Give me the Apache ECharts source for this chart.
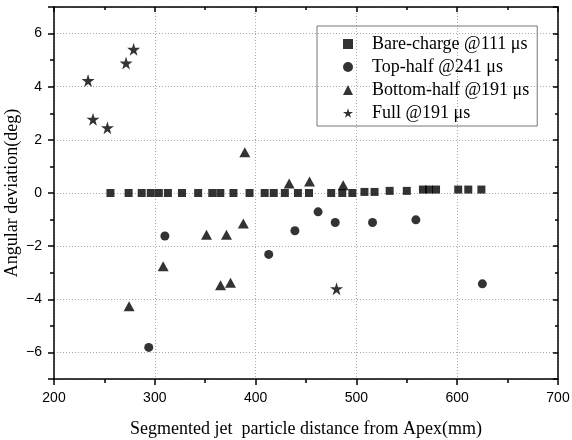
<!DOCTYPE html>
<html>
<head>
<meta charset="utf-8">
<script src="https://cdn.jsdelivr.net/npm/echarts@6/dist/echarts.min.js"></script>
<style>
  html, body { margin: 0; padding: 0; background: #fff; }
  #main { width: 572px; height: 440px; }
</style>
</head>
<body>
<div id="main"></div>
<script>
// values
const bareX = [256, 274, 287, 296, 304, 313, 327, 343, 357, 365, 378, 394, 409, 418, 429, 442, 453, 475, 486, 496, 508, 518, 533, 550, 566, 572, 579, 601, 611, 624];
const bareY = [0, 0, 0, 0, 0, 0, 0, 0, 0, 0, 0, 0, 0, 0, 0, 0, 0, 0, 0, 0, 0.04, 0.04, 0.08, 0.08, 0.13, 0.13, 0.13, 0.13, 0.13, 0.13];

const topX = [294, 310, 413, 439, 462, 479, 516, 559, 625];
const topY = [-5.81, -1.62, -2.31, -1.42, -0.71, -1.11, -1.11, -1.01, -3.42];

const bottomX = [274.5, 308.3, 351.3, 365.2, 371.1, 375.1, 387.8, 389.3, 433.3, 453.5, 486.9];
const bottomY = [-4.26, -2.76, -1.57, -3.47, -1.57, -3.38, -1.15, 1.53, 0.36, 0.43, 0.29];

const fullX = [233.8, 238.7, 253, 271.5, 279, 480.3];
const fullY = [4.23, 2.78, 2.46, 4.89, 5.41, -3.6];

const seriesNames = ['Bare-charge @111 \u03bcs', 'Top-half @241 \u03bcs', 'Bottom-half @191 \u03bcs', 'Full @191 \u03bcs'];

const starPath = 'path://M50,0 L61,35 L98,35 L68,57 L79,91 L50,70 L21,91 L32,57 L2,35 L39,35 Z';

function pairs(xs, ys) {
  return xs.map((x, i) => [x, ys[i]]);
}

const serif = 'Liberation Serif';
const sans = 'Liberation Sans';

const frame = { show: true, onZero: false, lineStyle: { color: '#000', width: 1.5 } };
const dotted = { show: true, lineStyle: { color: '#aaa', width: 1, type: [1, 2] } };

let option = {
  animation: false,
  grid: { left: 54, right: 14, top: 7, bottom: 61, containLabel: false, outerBoundsMode: 'none' },
  legend: {
    orient: 'vertical',
    left: 317,
    top: 26,
    padding: [9, 8, 4, 26],
    itemGap: 5,
    itemWidth: 10,
    itemHeight: 10,
    borderColor: '#777',
    borderWidth: 1,
    selectedMode: false,
    textStyle: { fontFamily: serif, fontSize: 18, color: '#000', lineHeight: 18, padding: [0, 0, 0, 14] },
    data: seriesNames
  },
  xAxis: [
    {
      type: 'value', min: 200, max: 700, interval: 100, position: 'bottom',
      axisLine: frame,
      axisTick: { length: 6, lineStyle: { color: '#000', width: 1.5 } },
      minorTick: { show: true, splitNumber: 2, length: 4, lineStyle: { color: '#000', width: 1.5 } },
      splitLine: dotted,
      axisLabel: { fontFamily: sans, fontSize: 14, color: '#000', margin: 12 },
      name: 'Segmented jet  particle distance from Apex(mm)',
      nameLocation: 'middle',
      nameGap: 41,
      nameTextStyle: { fontFamily: serif, fontSize: 18, color: '#000' }
    },
    {
      type: 'value', min: 200, max: 700, interval: 100, position: 'top',
      axisLine: frame,
      axisTick: { inside: true, length: 5, lineStyle: { color: '#000', width: 1.5 } },
      minorTick: { show: true, splitNumber: 2, length: 3, lineStyle: { color: '#000', width: 1.5 } },
      splitLine: { show: false },
      axisLabel: { show: false }
    }
  ],
  yAxis: [
    {
      type: 'value', min: -7, max: 7, splitNumber: 7, position: 'left',
      axisLine: frame,
      axisTick: { length: 6, lineStyle: { color: '#000', width: 1.5 } },
      minorTick: { show: true, splitNumber: 2, length: 4, lineStyle: { color: '#000', width: 1.5 } },
      splitLine: dotted,
      axisLabel: {
        fontFamily: sans, fontSize: 14, color: '#000', margin: 12,
        formatter: v => (Math.abs(v) === 7 ? '' : (v < 0 ? '\u2212' + Math.abs(v) : String(v)))
      },
      name: 'Angular deviation(deg)',
      nameLocation: 'middle',
      nameGap: 33,
      nameMoveOverlap: false,
      nameTextStyle: { fontFamily: serif, fontSize: 18, color: '#000' }
    },
    {
      type: 'value', min: -7, max: 7, splitNumber: 7, position: 'right',
      axisLine: frame,
      axisTick: { inside: true, length: 5, lineStyle: { color: '#000', width: 1.5 } },
      minorTick: { show: true, splitNumber: 2, length: 3, lineStyle: { color: '#000', width: 1.5 } },
      splitLine: { show: false },
      axisLabel: { show: false }
    }
  ],
  series: [
    { name: seriesNames[0], type: 'scatter', symbol: 'rect', symbolSize: 8, itemStyle: { color: '#000' }, data: pairs(bareX, bareY) },
    { name: seriesNames[1], type: 'scatter', symbol: 'circle', symbolSize: 9, itemStyle: { color: '#000' }, data: pairs(topX, topY) },
    { name: seriesNames[2], type: 'scatter', symbol: 'triangle', symbolSize: [11, 10], itemStyle: { color: '#000' }, data: pairs(bottomX, bottomY) },
    { name: seriesNames[3], type: 'scatter', symbol: starPath, symbolSize: 13, itemStyle: { color: '#000' }, data: pairs(fullX, fullY) }
  ]
};

let myChart = echarts.init(document.getElementById('main'), null, { renderer: 'canvas' });
myChart.setOption(option);
</script>
</body>
</html>
